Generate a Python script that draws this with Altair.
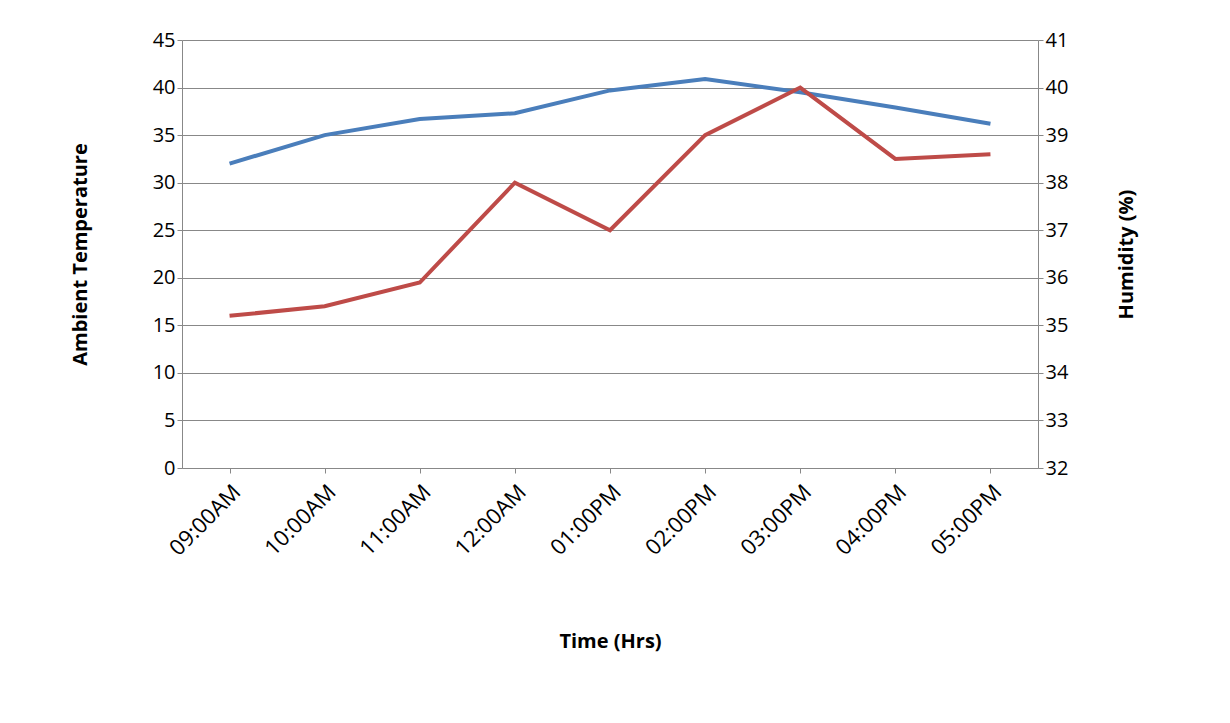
import altair as alt
import pandas as pd

times = ["09:00AM","10:00AM","11:00AM","12:00AM","01:00PM","02:00PM","03:00PM","04:00PM","05:00PM"]
temperature = [32.0, 35.0, 36.7, 37.3, 39.7, 40.9, 39.5, 37.9, 36.2]
humidity = [35.2, 35.4, 35.9, 38.0, 37.0, 39.0, 40.0, 38.5, 38.6]

df = pd.DataFrame({"time": times, "temp": temperature, "hum": humidity})
F = "Open Sans"
x = alt.X("time:N", sort=times, scale=alt.Scale(type="point", padding=0.5),
          axis=alt.Axis(title="Time (Hrs)", labelAngle=-45, labelFontSize=22, labelFont=F,
                        titleFont=F, titleFontSize=20, titleFontWeight="bold", titlePadding=72,
                        labelColor="black", domainColor="#888", tickColor="#888", grid=False,
                        labelPadding=8))
temp = alt.Chart(df).mark_line(color="#4a7ebb", strokeWidth=4).encode(
    x=x,
    y=alt.Y("temp:Q", scale=alt.Scale(domain=[0, 45]),
            axis=alt.Axis(title="Ambient Temperature", values=list(range(0, 50, 5)),
                          labelFontSize=20, labelFont=F, titleFont=F, titleFontSize=20,
                          titleFontWeight="bold", labelColor="black", domainColor="#888",
                          tickColor="#888", gridColor="#888", titlePadding=62)))
hum = alt.Chart(df).mark_line(color="#be4b48", strokeWidth=4).encode(
    x=x,
    y=alt.Y("hum:Q", scale=alt.Scale(domain=[32, 41]),
            axis=alt.Axis(title="Humidity (%)", orient="right", values=list(range(32, 42)),
                          labelFontSize=20, labelFont=F, titleFont=F, titleFontSize=20,
                          titleFontWeight="bold", labelColor="black", domainColor="#888",
                          tickColor="#888", grid=False, titleAngle=-90, titlePadding=69)))
chart = alt.layer(temp, hum).resolve_scale(y="independent").properties(
    width=856, height=428,
    autosize=alt.AutoSizeParams(type="none"),
    padding={"left": 174, "top": 32, "right": 180, "bottom": 250},
).configure_view(stroke=None)
chart.save("out.html", embed_options={"renderer": "svg", "actions": False})
